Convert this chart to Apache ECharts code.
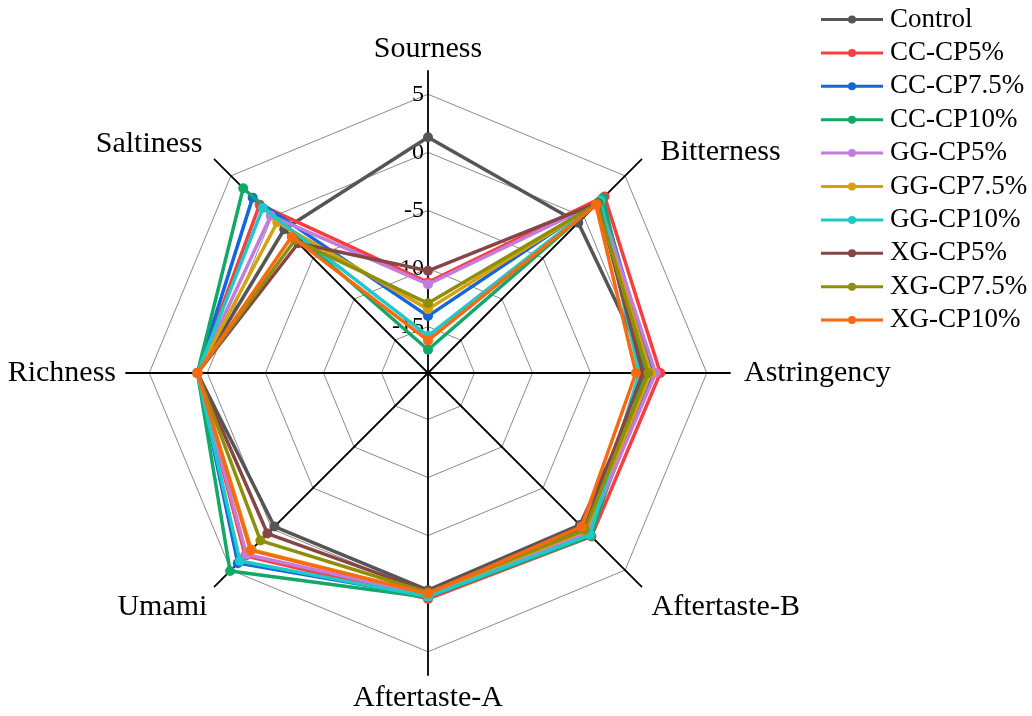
<!DOCTYPE html>
<html>
<head>
<meta charset="utf-8">
<script src="https://cdn.jsdelivr.net/npm/echarts@6/dist/echarts.min.js"></script>
<style>
html,body{margin:0;padding:0;background:#fff;}
#chart{width:1032px;height:716px;}
</style>
</head>
<body>
<div id="chart"></div>
<script>
// Indicators in ECharts order (counter-clockwise from top)
var categories = ['Sourness', 'Saltiness', 'Richness', 'Umami', 'Aftertaste-A', 'Aftertaste-B', 'Astringency', 'Bitterness'];
var axisMin = -19;
var axisMax = 7;
var tickStep = 5;

var seriesNames = ['Control', 'CC-CP5%', 'CC-CP7.5%', 'CC-CP10%', 'GG-CP5%', 'GG-CP7.5%', 'GG-CP10%', 'XG-CP5%', 'XG-CP7.5%', 'XG-CP10%'];

// values: Sourness, Saltiness, Richness, Umami, Aftertaste-A, Aftertaste-B, Astringency, Bitterness
var control  = [1.3,  -1.5, 0.85, -0.3, -0.3, -0.5,  0.1, -0.7];
var ccCP5    = [-11.2, 1.5, 0.85, 3.25, 0.45,  0.9,  1.0,  2.5];
var ccCP75   = [-14.1, 2.35, 0.85, 4.15, 0.2,  0.6,  0.3,  2.1];
var ccCP10   = [-17.0, 3.5, 0.85, 5.1,  0.3,  0.85, -0.3, 2.3];
var ggCP5    = [-11.35, 0.15, 0.85, 3.1, 0.1,  0.4,  0.6,  1.8];
var ggCP75   = [-13.5, -0.65, 0.85, 2.5, 0.0,  0.2,  0.2,  1.6];
var ggCP10   = [-15.8, 1.1, 0.85, 3.9,  0.25, 0.7, -0.8,  2.0];
var xgCP5    = [-10.2, -3.2, 0.85, 0.55, -0.2, 0.0, -0.5, 1.7];
var xgCP75   = [-13.0, -2.8, 0.85, 1.4, -0.1, 0.1, -0.05, 1.6];
var xgCP10   = [-16.2, -2.4, 0.85, 2.6, 0.0, -0.3, -1.1, 1.45];

var seriesValues = [control, ccCP5, ccCP75, ccCP10, ggCP5, ggCP75, ggCP10, xgCP5, xgCP75, xgCP10];
var colors = ['#555555', '#f83e3e', '#1466dc', '#13a868', '#c47be0', '#d9a00c', '#1fc9c9', '#874646', '#8e8e08', '#f86a12'];

var serifFont = '"Liberation Serif", "Times New Roman", serif';

// ring colours: only multiples of tickStep are visible
var ringColors = [];
for (var v = axisMin; v <= axisMax; v++) {
  ringColors.push(v % tickStep === 0 ? '#8a8a8a' : 'rgba(0,0,0,0)');
}

// per-indicator name placement tweaks
var nameStyles = [
  { gap: 7,  style: {} },
  { gap: 10, style: { padding: [0, 5, 0, 0], verticalAlign: 'bottom', lineHeight: 16 } },
  { gap: 10, style: {} },
  { gap: 10, style: { verticalAlign: 'top', lineHeight: 28 } },
  { gap: 8,  style: {} },
  { gap: 10, style: { padding: [0, 0, 0, 3], verticalAlign: 'top', lineHeight: 28 } },
  { gap: 10, style: { padding: [0, 0, 0, 4] } },
  { gap: 10, style: { padding: [0, 0, 0, 12] } }
];

var indicators = categories.map(function (name, i) {
  var ind = {
    name: name, min: axisMin, max: axisMax,
    nameGap: nameStyles[i].gap,
    nameTextStyle: nameStyles[i].style
  };
  if (i === 0) {
    ind.axisLabel = {
      show: true,
      color: '#000',
      fontSize: 24,
      fontFamily: serifFont,
      margin: 4,
      formatter: function (val) {
        var r = Math.round(val);
        return (Math.abs(val - r) < 1e-6 && r % tickStep === 0) ? String(r) : '';
      }
    };
  }
  return ind;
});

var chart = echarts.init(document.getElementById('chart'));
var option = {
  backgroundColor: '#fff',
  animation: false,
  color: colors,
  legend: {
    orient: 'vertical',
    left: 816,
    top: 1,
    itemWidth: 62,
    itemHeight: 8,
    itemGap: 6.4,
    icon: 'path://M0,2.5L62,2.5L62,5.5L0,5.5Z M35,4A4,4 0 1 1 27,4A4,4 0 1 1 35,4Z',
    itemStyle: { borderWidth: 0 },
    textStyle: { fontSize: 27, lineHeight: 27, fontFamily: serifFont, color: '#000', padding: [0, 0, 0, 2] },
    data: seriesNames
  },
  radar: {
    center: [428, 373],
    radius: 302,
    startAngle: 90,
    shape: 'polygon',
    splitNumber: axisMax - axisMin,
    nameGap: 10,
    axisName: { color: '#000', fontSize: 30, fontFamily: serifFont },
    axisLine: { lineStyle: { color: '#000', width: 1.8 } },
    axisTick: { show: false },
    axisLabel: { show: false },
    splitLine: { lineStyle: { color: ringColors, width: 1 } },
    splitArea: { show: false },
    indicator: indicators
  },
  series: seriesNames.map(function (name, i) {
    return {
      type: 'radar',
      name: name,
      symbol: 'circle',
      symbolSize: 10,
      z: 2 + i * 0.01,
      itemStyle: { color: colors[i] },
      lineStyle: { color: colors[i], width: 3.5 },
      data: [{ name: name, value: seriesValues[i] }]
    };
  })
};
chart.setOption(option);
</script>
</body>
</html>
